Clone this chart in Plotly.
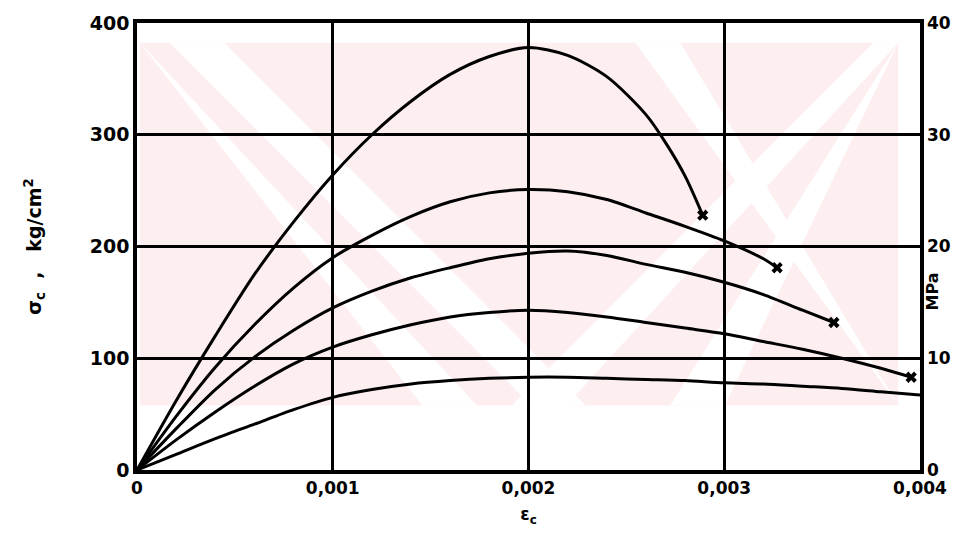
import plotly.graph_objects as go

# ---- data ----
strain_a = [0, 0.0002, 0.0004, 0.0006, 0.0008, 0.001, 0.0012, 0.0014, 0.0016, 0.0018,
            0.002, 0.0022, 0.0024, 0.0026, 0.0027, 0.0028, 0.00289]
stress_a = [0, 62, 120, 175, 222, 264, 300, 330, 354, 370, 378, 371, 352, 318, 293, 263, 228]

strain_b = [0, 0.0002, 0.0004, 0.0006, 0.0008, 0.001, 0.0012, 0.0014, 0.0016, 0.0018,
            0.002, 0.0022, 0.0024, 0.0026, 0.0028, 0.003, 0.0032, 0.00327]
stress_b = [0, 48, 92, 130, 163, 190, 210, 227, 240, 248, 251, 249, 242, 230, 218, 205, 189, 181]

strain_c = [0, 0.0002, 0.0004, 0.0006, 0.0008, 0.001, 0.0012, 0.0014, 0.0016, 0.0018,
            0.002, 0.0022, 0.0024, 0.0026, 0.0028, 0.003, 0.0032, 0.0034, 0.00356]
stress_c = [0, 37, 72, 101, 125, 145, 160, 172, 181, 189, 194, 196, 192, 184, 177, 168, 157, 143, 132]

strain_d = [0, 0.0002, 0.0004, 0.0006, 0.0008, 0.001, 0.0012, 0.0014, 0.0016, 0.0018,
            0.002, 0.0022, 0.0024, 0.0026, 0.0028, 0.003, 0.0032, 0.0034, 0.0036, 0.0038, 0.003955]
stress_d = [0, 27, 52, 75, 95, 110, 121, 130, 137, 141, 143, 141, 137, 132, 127, 122, 115, 108, 100, 91, 83]

strain_e = [0, 0.0002, 0.0004, 0.0006, 0.0008, 0.001, 0.0012, 0.0014, 0.0016, 0.0018,
            0.002, 0.0022, 0.0024, 0.0026, 0.0028, 0.003, 0.0032, 0.0034, 0.0036, 0.0038, 0.004]
stress_e = [0, 14, 28, 41, 54, 65, 72, 77, 80, 82, 83, 83, 82, 81, 80, 78, 77, 75, 73, 70, 67]

x_tickvals = [0, 0.001, 0.002, 0.003, 0.004]
x_ticktext = ["0", "0,001", "0,002", "0,003", "0,004"]
y_tickvals = [0, 100, 200, 300, 400]
y2_tickvals = [0, 10, 20, 30, 40]

curves = [(strain_a, stress_a), (strain_b, stress_b), (strain_c, stress_c),
          (strain_d, stress_d), (strain_e, stress_e)]
ends_marked = 4  # first four curves end with an "x"

# ---- figure ----
W, H = 963, 548
L, R, T, B = 137, 36, 20, 78
pw, ph = W - L - R, H - T - B

def px(xp, yp):
    return (xp - L) / pw, (H - B - yp) / ph

fig = go.Figure()
for sx, sy in curves:
    fig.add_trace(go.Scatter(x=sx, y=sy, mode="lines",
                             line=dict(color="black", width=3, shape="spline", smoothing=0.8),
                             hoverinfo="skip", showlegend=False))
fig.add_trace(go.Scatter(x=[c[0][-1] for c in curves[:ends_marked]],
                         y=[c[1][-1] for c in curves[:ends_marked]],
                         mode="markers", marker=dict(symbol="x", size=10, color="black"),
                         showlegend=False, hoverinfo="skip"))
# invisible trace to create the secondary (MPa) axis
fig.add_trace(go.Scatter(x=[0, 0.004], y=[0, 40], yaxis="y2", mode="lines",
                         line=dict(width=0), opacity=0, showlegend=False, hoverinfo="skip"))

# ---- pink watermark (decoration) ----
shapes = []
band_top, band_bot = 40, 405
x0p, y0p = px(140, band_top)
x1p, y1p = px(905, band_bot)
shapes.append(dict(type="rect", xref="paper", yref="paper", x0=x0p, x1=x1p, y0=y1p, y1=y0p,
                   fillcolor="#fdeef0", line=dict(width=0), layer="below"))
hgt = band_bot - band_top
def stripe(xs, w, direction):
    # xs: x at top of band; direction +1 = "\" , -1 = "/"
    pts = [(xs, band_top), (xs + w, band_top),
           (xs + w + direction * hgt, band_bot), (xs + direction * hgt, band_bot)]
    pts = [(max(140, min(905, a)), b) for a, b in pts]
    path = "M " + " L ".join("%.4f,%.4f" % px(a, b) for a, b in pts) + " Z"
    return dict(type="path", xref="paper", yref="paper", path=path,
                fillcolor="white", line=dict(width=0), layer="below")
shapes.append(stripe(170, 55, 1))
shapes.append(stripe(60, 55, 1))
shapes.append(stripe(880, 55, -1))
shapes.append(stripe(1040, 55, -1))
shapes.append(stripe(640, 45, 1))

fig.update_layout(
    width=W, height=H,
    margin=dict(l=L, r=R, t=T, b=B),
    paper_bgcolor="white", plot_bgcolor="white",
    font=dict(family="DejaVu Sans", color="black", size=17),
    shapes=shapes,
    xaxis=dict(range=[0, 0.004], tickvals=x_tickvals, ticktext=x_ticktext,
               showgrid=True, gridcolor="black", gridwidth=2.5,
               showline=True, linecolor="black", linewidth=3.5, mirror=True,
               ticks="", zeroline=False, tickfont=dict(size=17, weight="bold"),
               title=dict(text="ε<sub>c</sub>", font=dict(size=17, weight="bold"), standoff=12)),
    yaxis=dict(range=[0, 400], tickvals=y_tickvals,
               showgrid=True, gridcolor="black", gridwidth=2.5,
               showline=True, linecolor="black", linewidth=3.5, mirror=True,
               ticks="", zeroline=False, tickfont=dict(size=19, weight="bold"),
               title=dict(text="σ<sub>c</sub>  ,   kg/cm<sup>2</sup>", font=dict(size=19, weight="bold"), standoff=44)),
    yaxis2=dict(range=[0, 40], tickvals=y2_tickvals, overlaying="y", side="right",
                showgrid=False, zeroline=False, showline=False, ticks="",
                ticklabelstandoff=6, tickfont=dict(size=17, weight="bold")),
    annotations=[dict(text="<b>MPa</b>", xref="paper", yref="paper", x=px(951, 290)[0], y=px(951, 290)[1],
                      showarrow=False, textangle=-90, font=dict(size=16))],
)

fig.write_html("out.html")
